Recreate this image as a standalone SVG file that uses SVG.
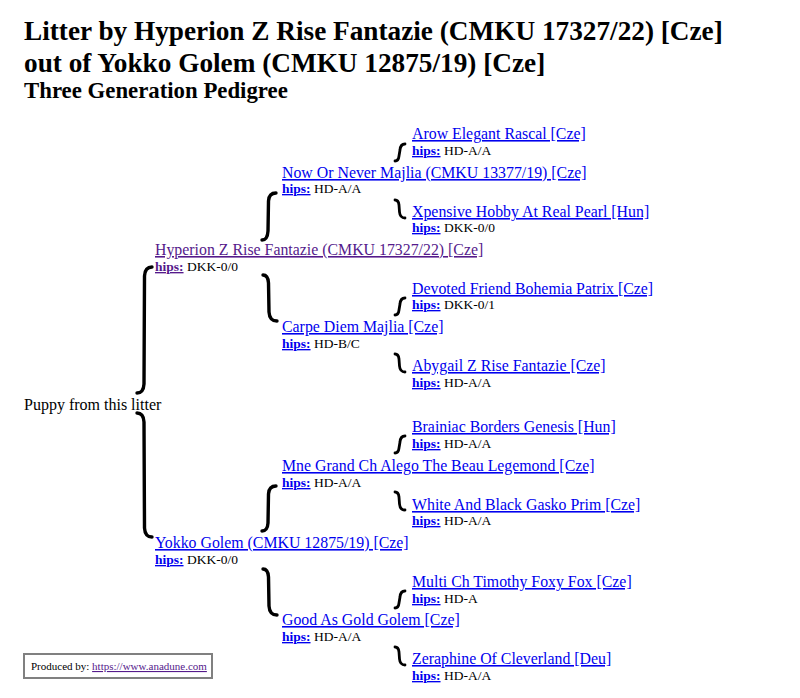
<svg xmlns="http://www.w3.org/2000/svg" width="800" height="698" viewBox="0 0 800 698">
<style>
text{font-family:"Liberation Serif","Times New Roman",serif;}
.t1{font-size:27.25px;font-weight:bold;fill:#000;}
.t2{font-size:22.8px;font-weight:bold;fill:#000;}
.nm{font-size:15.85px;fill:#0000ee;text-decoration:underline;}
.v{fill:#551a8b;}
.hp{font-size:13.5px;fill:#000;}
.hl{font-weight:bold;fill:#0000ee;text-decoration:underline;}
.hv{font-weight:bold;fill:#551a8b;text-decoration:underline;}
.pl{font-size:16px;fill:#000;}
.br{fill:none;stroke:#000;stroke-width:3.4;stroke-linecap:round;stroke-linejoin:round;}
.bs{fill:none;stroke:#000;stroke-width:2.8;stroke-linecap:round;}
.ft{font-size:11px;fill:#000;}
</style>
<rect width="800" height="698" fill="#fff"/>
<g id="title">
<text class="t1" x="24" y="40">Litter by Hyperion Z Rise Fantazie (CMKU 17327/22) [Cze]</text>
<text class="t1" x="24" y="72">out of Yokko Golem (CMKU 12875/19) [Cze]</text>
<text class="t2" x="24" y="98">Three Generation Pedigree</text>
</g>
<g id="connectors">
<path class="br" d="M152,267 Q145,267 144.5,276 L144,384 Q143.5,393 137,393"/>
<path class="br" d="M137,413 Q143.5,413 144,422 L144.5,528 Q145,537 152,537"/>
<path class="br" d="M276,193 Q269,193 268.5,201 L268,231 Q267.5,240 262,240"/>
<path class="br" d="M263,275 Q268,275 268.5,283 L269,312 Q269.5,321 277,321"/>
<path class="br" d="M276,486 Q269,486 268.5,494 L268,523 Q267.5,531 262,531"/>
<path class="br" d="M263,569 Q268,569 268.5,577 L269,606 Q269.5,615 277,615"/>
<path class="bs" d="M405,144 Q400.5,144 400,150 L399,156 Q398.5,161 395,161"/>
<path class="bs" d="M395,200 Q398.5,200 399,205 L399.5,212 Q400,218 405,218"/>
<path class="bs" d="M405,298 Q400.5,298 400,304 L399,310 Q398.5,315 395,315"/>
<path class="bs" d="M395,354 Q398.5,354 399,359 L399.5,366 Q400,372 405,372"/>
<path class="bs" d="M405,436 Q400.5,436 400,442 L399,448 Q398.5,453 395,453"/>
<path class="bs" d="M395,492 Q398.5,492 399,497 L399.5,504 Q400,510 405,510"/>
<path class="bs" d="M405,591 Q400.5,591 400,597 L399,603 Q398.5,608 395,608"/>
<path class="bs" d="M395,647 Q398.5,647 399,652 L399.5,659 Q400,665 405,665"/>
</g>
<g id="root"><text class="pl" x="24" y="410">Puppy from this litter</text></g>
<g id="sire">
<text class="nm v" x="155" y="255">Hyperion Z Rise Fantazie (CMKU 17327/22) [Cze]</text>
<text class="hp" x="155" y="271"><tspan class="hv">hips:</tspan> DKK-0/0</text>
</g>
<g id="dam">
<text class="nm" x="155" y="548">Yokko Golem (CMKU 12875/19) [Cze]</text>
<text class="hp" x="155" y="564"><tspan class="hl">hips:</tspan> DKK-0/0</text>
</g>
<g id="ss">
<text class="nm" x="282" y="178">Now Or Never Majlia (CMKU 13377/19) [Cze]</text>
<text class="hp" x="282" y="193"><tspan class="hl">hips:</tspan> HD-A/A</text>
</g>
<g id="sd">
<text class="nm" x="282" y="332">Carpe Diem Majlia [Cze]</text>
<text class="hp" x="282" y="348"><tspan class="hl">hips:</tspan> HD-B/C</text>
</g>
<g id="ds">
<text class="nm" x="282" y="471">Mne Grand Ch Alego The Beau Legemond [Cze]</text>
<text class="hp" x="282" y="487"><tspan class="hl">hips:</tspan> HD-A/A</text>
</g>
<g id="dd">
<text class="nm" x="282" y="625">Good As Gold Golem [Cze]</text>
<text class="hp" x="282" y="641"><tspan class="hl">hips:</tspan> HD-A/A</text>
</g>
<g id="sss">
<text class="nm" x="412" y="139">Arow Elegant Rascal [Cze]</text>
<text class="hp" x="412" y="155"><tspan class="hl">hips:</tspan> HD-A/A</text>
</g>
<g id="ssd">
<text class="nm" x="412" y="217">Xpensive Hobby At Real Pearl [Hun]</text>
<text class="hp" x="412" y="232"><tspan class="hl">hips:</tspan> DKK-0/0</text>
</g>
<g id="sds">
<text class="nm" x="412" y="294">Devoted Friend Bohemia Patrix [Cze]</text>
<text class="hp" x="412" y="309"><tspan class="hl">hips:</tspan> DKK-0/1</text>
</g>
<g id="sdd">
<text class="nm" x="412" y="371">Abygail Z Rise Fantazie [Cze]</text>
<text class="hp" x="412" y="387"><tspan class="hl">hips:</tspan> HD-A/A</text>
</g>
<g id="dss">
<text class="nm" x="412" y="432">Brainiac Borders Genesis [Hun]</text>
<text class="hp" x="412" y="448"><tspan class="hl">hips:</tspan> HD-A/A</text>
</g>
<g id="dsd">
<text class="nm" x="412" y="510">White And Black Gasko Prim [Cze]</text>
<text class="hp" x="412" y="525"><tspan class="hl">hips:</tspan> HD-A/A</text>
</g>
<g id="dds">
<text class="nm" x="412" y="587">Multi Ch Timothy Foxy Fox [Cze]</text>
<text class="hp" x="412" y="603"><tspan class="hl">hips:</tspan> HD-A</text>
</g>
<g id="ddd">
<text class="nm" x="412" y="664">Zeraphine Of Cleverland [Deu]</text>
<text class="hp" x="412" y="680"><tspan class="hl">hips:</tspan> HD-A/A</text>
</g>
<g id="footer">
<rect x="24" y="654" width="188" height="24" fill="#fff" stroke="#808080" stroke-width="2"/>
<text class="ft" x="31" y="670">Produced by: <tspan fill="#551a8b" text-decoration="underline">https://www.anadune.com</tspan></text>
</g>
</svg>
